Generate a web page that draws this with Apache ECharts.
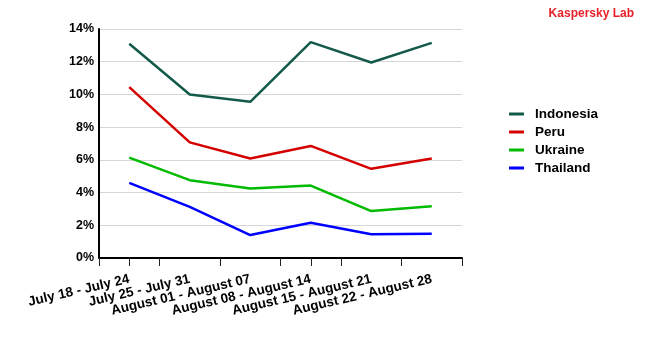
<!DOCTYPE html>
<html>
<head>
<meta charset="utf-8">
<script src="https://cdn.jsdelivr.net/npm/echarts@6/dist/echarts.min.js"></script>
<style>
  html, body { margin: 0; padding: 0; background: #fff; }
  #chart { width: 650px; height: 350px; }
</style>
</head>
<body>
<div id="chart"></div>
<script>
// Weekly share of attacked users, by country
const weeks = [
  'July 18 - July 24',
  'July 25 - July 31',
  'August 01 - August 07',
  'August 08 - August 14',
  'August 15 - August 21',
  'August 22 - August 28'
];
const indonesia = [13.1, 10.0, 9.55, 13.2, 11.95, 13.15];
const peru      = [10.45, 7.07, 6.08, 6.85, 5.45, 6.08];
const ukraine   = [6.14, 4.76, 4.25, 4.43, 2.87, 3.17];
const thailand  = [4.59, 3.13, 1.40, 2.15, 1.45, 1.48];

const seriesNames = ['Indonesia', 'Peru', 'Ukraine', 'Thailand'];
const seriesColors = ['#135a4a', '#d40000', '#00bb00', '#0000ff'];
const seriesData = [indonesia, peru, ukraine, thailand];

const font = 'Liberation Sans, Arial, sans-serif';

const chart = echarts.init(document.getElementById('chart'), null, { renderer: 'canvas' });
chart.setOption({
  animation: false,
  backgroundColor: '#ffffff',
  title: {
    text: 'Kaspersky Lab',
    right: 11,
    top: 3,
    textStyle: { color: '#e8202a', fontSize: 12, fontWeight: 'bold', fontFamily: font }
  },
  legend: {
    orient: 'vertical',
    left: 504,
    top: 102,
    itemGap: 4,
    itemWidth: 15,
    itemHeight: 3,
    icon: 'rect',
    data: seriesNames,
    textStyle: {
      color: '#000', fontSize: 13.5, lineHeight: 14, fontWeight: 'bold', fontFamily: font,
      padding: [0, 0, 0, 6]
    }
  },
  grid: { left: 99, top: 29, right: 188, bottom: 92, containLabel: false },
  xAxis: [
    {
      type: 'category',
      data: weeks,
      boundaryGap: true,
      axisLine: { lineStyle: { color: '#000', width: 2 } },
      axisTick: { show: true, length: 8, lineStyle: { color: '#222', width: 1 } },
      axisLabel: {
        interval: 0,
        rotate: 13,
        margin: 21,
        color: '#000',
        fontSize: 13.5,
        fontWeight: 'bold',
        fontFamily: font
      },
      splitLine: { show: false }
    },
    {
      // second category axis only contributes tick marks at the category centres
      type: 'category',
      data: weeks,
      boundaryGap: true,
      position: 'bottom',
      axisLine: { show: false },
      axisTick: { show: true, alignWithLabel: true, length: 8, lineStyle: { color: '#222', width: 1 } },
      axisLabel: { show: false },
      splitLine: { show: false }
    }
  ],
  yAxis: {
    type: 'value',
    min: 0,
    max: 14,
    interval: 2,
    axisLine: { show: true, lineStyle: { color: '#000', width: 2 } },
    axisTick: { show: false },
    axisLabel: {
      formatter: '{value}%',
      margin: 5,
      color: '#000',
      fontSize: 12.5,
      fontWeight: 'bold',
      fontFamily: font
    },
    splitLine: { show: true, lineStyle: { color: '#d6d6d6', width: 1 } }
  },
  series: seriesNames.map((name, i) => ({
    name: name,
    type: 'line',
    data: seriesData[i],
    xAxisIndex: 0,
    symbol: 'none',
    color: seriesColors[i],
    lineStyle: { color: seriesColors[i], width: 2.5 }
  }))
});
</script>
</body>
</html>
